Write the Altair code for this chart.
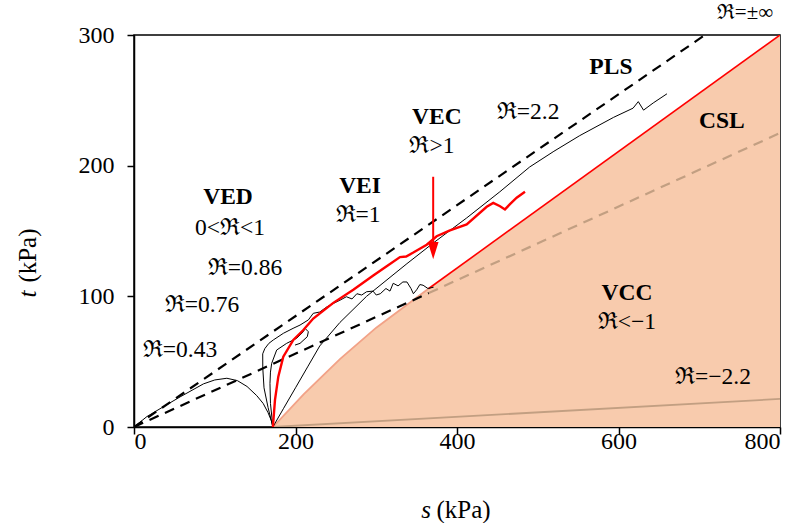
import altair as alt
import pandas as pd

# ---------------- data (s, t in kPa) ----------------
# shaded (VCC) region upper boundary
shade_s = [172, 210, 255, 300, 365, 800]
shade_t = [0, 25, 52, 76, 106, 300]
# curved lower part of the boundary (salmon) and straight red part
bnd_s = [172, 210, 255, 300, 365]
bnd_t = [0, 25, 52, 76, 106]
red_bnd_s = [365, 800]
red_bnd_t = [106, 300]
# R = -2.2 line
rneg_s = [172, 800]
rneg_t = [0, 21.5]
# PLS dashed line
pls_s = [0, 707]
pls_t = [0, 300]
# CSL dashed line (black part and tan part)
csl_s = [0, 365]
csl_t = [0, 102.5]
csl2_s = [365, 800]
csl2_t = [102.5, 225]

# stress paths
p043_s = [0, 16, 35, 57, 86, 100, 115, 128, 140, 152, 160, 166, 170, 172]
p043_t = [0, 8, 15, 23, 33, 36, 37.3, 35.5, 31, 24, 18, 11, 5, 0]

pA_s = [172, 166, 161, 159.5, 159.4, 162, 167, 172.5, 185, 197, 205.6, 216, 222, 230, 239, 247, 255,
        263, 270, 276, 282, 288, 296, 300, 305, 312, 317, 321, 327, 333, 338, 343, 346, 350, 354, 358, 364, 371]
pA_t = [0, 15, 30, 45, 56, 60, 64, 66.6, 71.7, 75.5, 78, 82, 87, 88, 92, 94.6, 97,
        99.7, 98, 102, 101, 103.5, 104, 101, 102, 106, 104, 110, 108, 111, 111, 106, 102, 105, 109, 108.5, 106, 107]

pB_s = [172, 169, 168.4, 169, 170.5, 176.7, 189, 201.5, 209.7, 211.8, 215.9, 214.6, 205.6, 199.4]
pB_t = [0, 18, 33.4, 42, 48.7, 58.9, 64, 67.9, 72.9, 75.5, 72.9, 69.1, 64, 62.7]

p22_s = [172, 185, 200, 215, 230, 255, 288, 338, 371, 412, 453, 490, 520, 552, 594, 618, 624.5, 631, 643, 660]
p22_t = [0, 14, 30, 46, 62, 80, 100, 125, 141, 160, 180, 199, 211, 223, 237, 244, 249, 242.5, 248, 255]

pred_s = [172, 174.6, 178.7, 184.9, 197.3, 209.7, 222, 246.8, 271.6, 296.3, 312.9, 329.4, 337, 345.9,
          362.5, 374.8, 391.3, 412, 436.8, 444.9, 453.3, 459.4, 465.6, 473.9, 484.2]
pred_t = [0, 20.7, 38.5, 53.8, 66.6, 74.2, 83, 95, 105, 116, 123, 130, 130.5, 133.5,
          139.5, 146, 150.5, 155, 168.5, 171.5, 169, 166.5, 170.5, 175.5, 180]

# arrow (s position, shaft top, shaft bottom, head centre)
arrow_s = [370.5]
arrow_top = [191.5]
arrow_bot = [140]
arrow_head = [135]

# text labels
lab_text = ["PLS", "ℜ=2.2", "CSL", "VEC", "ℜ>1", "VED", "0<ℜ<1", "VEI", "ℜ=1",
            "ℜ=0.86", "ℜ=0.76", "ℜ=0.43", "VCC", "ℜ<−1", "ℜ=−2.2"]
lab_s = [590.6, 488, 728, 375, 369, 116.4, 118.9, 279.9, 277.4, 137.5, 84.2, 57, 610.5, 610.5, 717]
lab_t = [275.4, 241, 234, 237, 215, 176, 152.3, 184.4, 162.2, 121.7, 93.3, 58.9, 102.5, 80.3, 38.3]
lab_bold = [True, False, True, True, False, True, False, True, False,
            False, False, False, True, False, False]
# label above the plot's top-right corner
top_text = ["ℜ=±∞"]
top_s = [756.7]
top_t = [316.5]

FONT = "'Liberation Serif', 'Times New Roman', Times, serif"
TAN = "#C29F82"
PEACH = "#F8CBAD"
SALMON = "#F2A287"
LAB_SIZE = 23.5
TITLE_SIZE = 25

X = alt.X("s:Q", scale=alt.Scale(domain=[0, 800], nice=False),
          axis=alt.Axis(values=[0, 200, 400, 600, 800], title=None, grid=False,
                        labelBaseline="middle", labelPadding=7))
Y = alt.Y("t:Q", scale=alt.Scale(domain=[0, 300], nice=False),
          axis=alt.Axis(values=[0, 100, 200, 300], title=None, grid=False, labelPadding=13))


def df(s, t):
    return pd.DataFrame({"s": s, "t": t, "i": list(range(len(s)))})


def path(s, t, color, width=1.0, dash=None):
    kw = dict(color=color, strokeWidth=width, clip=True)
    if dash:
        kw["strokeDash"] = dash
    return alt.Chart(df(s, t)).mark_line(**kw).encode(x=X, y=Y, order="i:Q")


shade_df = pd.DataFrame({"s": shade_s, "t": shade_t, "zero": [0] * len(shade_s)})
shade = alt.Chart(shade_df).mark_area(color=PEACH, fill=PEACH, opacity=1, orient="vertical").encode(
    x=X, y=Y, y2=alt.Y2("zero:Q"))

layers = [
    shade,
    path(rneg_s, rneg_t, TAN, 1.8),
    path(bnd_s, bnd_t, SALMON, 1.8),
    path(red_bnd_s, red_bnd_t, "#FF0000", 1.6),
    path(csl2_s, csl2_t, TAN, 2.2, [10, 7]),
    path(csl_s, csl_t, "black", 2.2, [10, 7]),
    path(pls_s, pls_t, "black", 2.2, [10, 7]),
    path(p043_s, p043_t, "black", 1.0),
    path(pA_s, pA_t, "black", 1.0),
    path(pB_s, pB_t, "black", 1.0),
    path(p22_s, p22_t, "black", 1.0),
    path(pred_s, pred_t, "#FF0000", 2.4),
]

arrow_df = pd.DataFrame({"s": arrow_s, "t": arrow_top, "t2": arrow_bot, "h": arrow_head})
layers.append(alt.Chart(arrow_df).mark_rule(color="#FF0000", strokeWidth=2).encode(
    x=X, y=Y, y2="t2:Q"))
layers.append(alt.Chart(arrow_df).mark_point(
    shape="M-0.62,-1L0.62,-1L0,1Z", filled=True, color="#FF0000", size=300, opacity=1
).encode(x=X, y=alt.Y("h:Q", scale=alt.Scale(domain=[0, 300], nice=False))))

lab_df = pd.DataFrame({"s": lab_s, "t": lab_t, "label": lab_text, "bold": lab_bold})
layers.append(alt.Chart(lab_df[~lab_df["bold"]]).mark_text(
    font=FONT, fontSize=LAB_SIZE, color="black", align="center", baseline="middle"
).encode(x=X, y=Y, text="label:N"))
layers.append(alt.Chart(lab_df[lab_df["bold"]]).mark_text(
    font=FONT, fontSize=LAB_SIZE, fontWeight="bold", color="black", align="center", baseline="middle"
).encode(x=X, y=Y, text="label:N"))
top_df = pd.DataFrame({"s": top_s, "t": top_t, "label": top_text})
layers.append(alt.Chart(top_df).mark_text(
    font=FONT, fontSize=21, color="black", align="center", baseline="middle"
).encode(x=X, y=Y, text="label:N"))

# axis titles (italic symbol + regular unit)
tit_df = pd.DataFrame({"s": [361.6], "t": [-63.5], "label": ["s"]})
tit2_df = pd.DataFrame({"s": [374.5], "t": [-63.5], "label": ["(kPa)"]})
tit3_df = pd.DataFrame({"s": [-131], "t": [101.8], "label": ["t"]})
tit4_df = pd.DataFrame({"s": [-131], "t": [110.5], "label": ["(kPa)"]})
layers.append(alt.Chart(tit_df).mark_text(font=FONT, fontSize=TITLE_SIZE, fontStyle="italic",
                                          align="center", baseline="middle", color="black")
              .encode(x=X, y=Y, text="label:N"))
layers.append(alt.Chart(tit2_df).mark_text(font=FONT, fontSize=TITLE_SIZE, align="left",
                                           baseline="middle", color="black")
              .encode(x=X, y=Y, text="label:N"))
layers.append(alt.Chart(tit3_df).mark_text(font=FONT, fontSize=TITLE_SIZE, fontStyle="italic", angle=270,
                                           align="center", baseline="middle", color="black")
              .encode(x=X, y=Y, text="label:N"))
layers.append(alt.Chart(tit4_df).mark_text(font=FONT, fontSize=TITLE_SIZE, angle=270,
                                           align="left", baseline="middle", color="black")
              .encode(x=X, y=Y, text="label:N"))

chart = alt.layer(*layers).properties(
    width=646, height=392,
    autosize=alt.AutoSizeParams(type="none"),
    padding={"left": 134, "top": 35, "right": 16, "bottom": 96},
    background="white",
).configure_view(stroke="black", strokeWidth=1.5).configure_axis(
    domainColor="black", domainWidth=1.5, tickColor="black", tickWidth=1.5, tickSize=7,
    labelFont=FONT, labelFontSize=24, labelColor="black",
)

chart.save("out.html", embed_options={"renderer": "svg", "actions": False})
